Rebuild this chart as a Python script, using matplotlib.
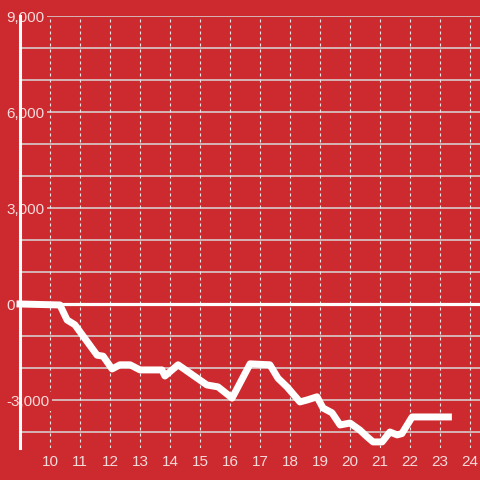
import matplotlib
matplotlib.use('Agg')
import matplotlib.pyplot as plt

# Line data: hour of day vs running total
hours = [9.0, 10.33, 10.57, 10.83, 11.57, 11.77, 12.07, 12.33, 12.67, 13.0, 13.73, 13.83,
         14.27, 15.23, 15.6, 16.07, 16.67, 17.33, 17.6, 17.9, 18.33, 18.57, 18.9, 19.1,
         19.4, 19.67, 20.0, 20.33, 20.57, 20.77, 21.07, 21.33, 21.57, 21.73, 22.07, 23.28]
values = [0, -30, -500, -650, -1600, -1630, -2030, -1900, -1900, -2060, -2060, -2250,
          -1900, -2530, -2590, -2940, -1870, -1900, -2320, -2590, -3060, -3000, -2900, -3250,
          -3400, -3780, -3720, -3940, -4150, -4310, -4310, -4000, -4090, -4050, -3530, -3530]

x_ticks = list(range(10, 25))
y_ticks = [-3000, 0, 3000, 6000, 9000]
y_grid = [v for v in range(-4000, 10000, 1000) if v != 0]

bg = '#cd2a2f'
txt = '#f5dada'
plt.rcParams['font.family'] = ['Liberation Sans', 'DejaVu Sans']

fig = plt.figure(figsize=(4.8, 4.8), dpi=100, facecolor=bg)
ax = fig.add_axes([20/480, 32/480, 460/480, 432/480], facecolor=bg)
ax.set_xlim(9, 24.333)
ax.set_ylim(-4500, 9000)

#grid lines drawn by hand so the labels can sit on top
for v in y_grid:
    ax.axhline(v, color='#d9d9d9', lw=1.1, zorder=1)
for h in x_ticks:
    ax.axvline(h, color='#e6e6e6', lw=0.8, linestyle=(0, (2.7, 2.7)), zorder=1)
ax.axhline(0, color='white', lw=2.3, zorder=1.5)

ax.plot(hours, values, color='white', lw=5, solid_capstyle='projecting',
        solid_joinstyle='round', clip_on=False, zorder=3)

for s in ['top', 'right', 'bottom']:
    ax.spines[s].set_visible(False)
ax.spines['left'].set_color('white')
ax.spines['left'].set_linewidth(2.2)

ax.set_xticks(x_ticks)
ax.set_xticklabels([str(h) for h in x_ticks])
ax.set_yticks(y_ticks)
ax.set_yticklabels([f'{v:,}' for v in y_ticks])
ax.tick_params(axis='x', length=0, pad=5, labelsize=11, labelcolor=txt)
ax.tick_params(axis='y', length=0, pad=10, labelsize=11, labelcolor=txt)
for lab in ax.get_yticklabels():
    lab.set_horizontalalignment('left')
    lab.set_bbox(dict(boxstyle='square,pad=0.15', fc=bg, ec='none'))

fig.savefig('out.png', dpi=100, facecolor=bg)
